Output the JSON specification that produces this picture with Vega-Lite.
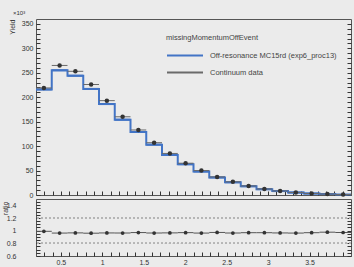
{
  "$schema": "https://vega.github.io/schema/vega-lite/v6.json",
  "background": "#ebebeb",
  "padding": {"left": 0, "top": 9, "right": 2, "bottom": 2},
  "bounds": "flush",
  "spacing": 4,
  "config": {
    "font": "Liberation Sans",
    "view": {"stroke": "#555", "strokeWidth": 1},
    "axis": {"domain": false, "offset": -4, "tickSize": 4, "tickColor": "#333", "tickWidth": 1, "labelColor": "#333", "labelFontSize": 7, "titleFontSize": 7, "titleFontWeight": "normal", "titleColor": "#333", "grid": false, "labelFont": "Liberation Sans", "labelOverlap": false, "labelBound": false, "labelFlush": false}
  },
  "data": {"values": [
    {"x0": 0.2, "x1": 0.39, "xc": 0.295, "mc": 216, "data": 219, "ratio": 0.99},
    {"x0": 0.39, "x1": 0.58, "xc": 0.485, "mc": 255, "data": 265, "ratio": 0.962},
    {"x0": 0.58, "x1": 0.77, "xc": 0.675, "mc": 244, "data": 253, "ratio": 0.965},
    {"x0": 0.77, "x1": 0.96, "xc": 0.865, "mc": 217, "data": 226, "ratio": 0.96},
    {"x0": 0.96, "x1": 1.15, "xc": 1.055, "mc": 186, "data": 193, "ratio": 0.964},
    {"x0": 1.15, "x1": 1.34, "xc": 1.245, "mc": 154, "data": 160, "ratio": 0.963},
    {"x0": 1.34, "x1": 1.53, "xc": 1.435, "mc": 129, "data": 133, "ratio": 0.97},
    {"x0": 1.53, "x1": 1.72, "xc": 1.625, "mc": 103, "data": 107, "ratio": 0.963},
    {"x0": 1.72, "x1": 1.91, "xc": 1.815, "mc": 82, "data": 85, "ratio": 0.965},
    {"x0": 1.91, "x1": 2.1, "xc": 2.005, "mc": 63, "data": 65, "ratio": 0.969},
    {"x0": 2.1, "x1": 2.29, "xc": 2.195, "mc": 48, "data": 50, "ratio": 0.962},
    {"x0": 2.29, "x1": 2.48, "xc": 2.385, "mc": 36, "data": 37, "ratio": 0.972},
    {"x0": 2.48, "x1": 2.67, "xc": 2.575, "mc": 26, "data": 27, "ratio": 0.963},
    {"x0": 2.67, "x1": 2.86, "xc": 2.765, "mc": 18, "data": 18.6, "ratio": 0.968},
    {"x0": 2.86, "x1": 3.05, "xc": 2.955, "mc": 12, "data": 12.4, "ratio": 0.968},
    {"x0": 3.05, "x1": 3.24, "xc": 3.145, "mc": 8, "data": 8.3, "ratio": 0.964},
    {"x0": 3.24, "x1": 3.43, "xc": 3.335, "mc": 5, "data": 5.2, "ratio": 0.962},
    {"x0": 3.43, "x1": 3.62, "xc": 3.525, "mc": 3, "data": 3.1, "ratio": 0.968},
    {"x0": 3.62, "x1": 3.81, "xc": 3.715, "mc": 2, "data": 2.05, "ratio": 0.976},
    {"x0": 3.81, "x1": 4.0, "xc": 3.905, "mc": 1, "data": 1.03, "ratio": 0.971}
  ]},
  "vconcat": [
    {
      "width": 315,
      "height": 176,
      "title": {"text": "×10³", "anchor": "start", "fontSize": 6, "fontWeight": "normal", "color": "#333", "offset": 3, "dx": 5, "font": "Liberation Sans"},
      "resolve": {"scale": {"y": "independent"}, "axis": {"y": "independent"}},
      "encoding": {
        "x": {"field": "x0", "type": "quantitative", "scale": {"domain": [0.2, 4.0], "nice": false, "zero": false},
          "axis": {"title": null, "labels": false, "values": [0.3,0.4,0.5,0.6,0.7,0.8,0.9,1,1.1,1.2,1.3,1.4,1.5,1.6,1.7,1.8,1.9,2,2.1,2.2,2.3,2.4,2.5,2.6,2.7,2.8,2.9,3,3.1,3.2,3.3,3.4,3.5,3.6,3.7,3.8,3.9]}}
      },
      "layer": [
        {
          "encoding": {
            "y": {"field": "mc", "type": "quantitative", "scale": {"domain": [0, 360], "nice": false},
              "axis": {"title": "Yield", "titleAngle": -90, "titleX": -25, "titleY": 0, "titleAlign": "right", "titleBaseline": "bottom",
                "values": [0,10,20,30,40,50,60,70,80,90,100,110,120,130,140,150,160,170,180,190,200,210,220,230,240,250,260,270,280,290,300,310,320,330,340,350],
                "labelExpr": "datum.value % 50 === 0 ? datum.label : ''", "labelPadding": 3}}
          },
          "layer": [
            {
              "mark": {"type": "line", "interpolate": "step-after", "strokeWidth": 2},
              "encoding": {
                "color": {"datum": "Off-resonance MC15rd (exp6_proc13)", "type": "nominal",
                  "scale": {"domain": ["Off-resonance MC15rd (exp6_proc13)", "Continuum data"], "range": ["#4274c6", "#6a6a6a"]},
                  "legend": {"orient": "none", "legendX": 130, "legendY": 15, "title": "missingMomentumOffEvent", "titleFontSize": 7.5, "titleFontWeight": "normal", "titleColor": "#444", "titleFont": "Liberation Sans", "labelFont": "Liberation Sans", "labelFontSize": 7.5, "labelColor": "#444", "symbolType": "M-1,0H3", "symbolSize": 324, "symbolStrokeWidth": 2, "rowPadding": 3, "titlePadding": 4, "labelOffset": 24}}
              }
            },
            {
              "mark": {"type": "rule", "strokeWidth": 2, "color": "#4274c6"},
              "encoding": {"x2": {"field": "x1"}}
            },
            {
              "mark": {"type": "rule", "strokeWidth": 1},
              "encoding": {"x2": {"field": "x1"}, "y": {"field": "data", "type": "quantitative"},
                "color": {"datum": "Continuum data", "type": "nominal"}}
            },
            {
              "mark": {"type": "circle", "size": 20, "color": "#333", "opacity": 1},
              "encoding": {"x": {"field": "xc", "type": "quantitative"}, "y": {"field": "data", "type": "quantitative"}}
            }
          ]
        },
        {
          "mark": {"type": "point", "opacity": 0},
          "encoding": {
            "y": {"field": "mc", "type": "quantitative", "scale": {"domain": [0, 360], "nice": false},
              "axis": {"orient": "right", "title": null, "labels": false,
                "values": [0,10,20,30,40,50,60,70,80,90,100,110,120,130,140,150,160,170,180,190,200,210,220,230,240,250,260,270,280,290,300,310,320,330,340,350]}}
          }
        }
      ]
    },
    {
      "width": 315,
      "height": 57,
      "resolve": {"scale": {"y": "independent"}, "axis": {"y": "independent"}},
      "encoding": {
        "x": {"field": "x0", "type": "quantitative", "scale": {"domain": [0.2, 4.0], "nice": false, "zero": false},
          "axis": {"title": null, "format": "~g", "labelPadding": 2, "values": [0.3,0.4,0.5,0.6,0.7,0.8,0.9,1,1.1,1.2,1.3,1.4,1.5,1.6,1.7,1.8,1.9,2,2.1,2.2,2.3,2.4,2.5,2.6,2.7,2.8,2.9,3,3.1,3.2,3.3,3.4,3.5,3.6,3.7,3.8,3.9],
            "labelExpr": "abs(datum.value*2 - round(datum.value*2)) < 0.01 ? datum.label : ''"}}
      },
      "layer": [
        {
          "encoding": {
            "y": {"field": "ratio", "type": "quantitative", "scale": {"domain": [0.6, 1.5], "nice": false, "zero": false},
              "axis": {"title": "ratio", "titleAngle": -90, "titleX": -32, "titleY": 2, "titleAlign": "right", "titleBaseline": "bottom", "format": "~g",
                "values": [0.6,0.65,0.7,0.75,0.8,0.85,0.9,0.95,1,1.05,1.1,1.15,1.2,1.25,1.3,1.35,1.4,1.45],
                "labelExpr": "abs(datum.value*5 - round(datum.value*5)) < 0.01 ? datum.label : ''", "labelPadding": 20}}
          },
          "layer": [
            {
              "mark": {"type": "rule", "color": "#b5b5b5", "strokeDash": [2, 2]},
              "encoding": {"x": null, "y": {"datum": 1.2, "type": "quantitative"}}
            },
            {
              "mark": {"type": "rule", "color": "#b5b5b5", "strokeDash": [2, 2]},
              "encoding": {"x": null, "y": {"datum": 0.8, "type": "quantitative"}}
            },
            {
              "mark": {"type": "rule", "color": "#555", "strokeWidth": 1},
              "encoding": {"x2": {"field": "x1"}}
            },
            {
              "mark": {"type": "circle", "size": 14, "color": "#333", "opacity": 1},
              "encoding": {"x": {"field": "xc", "type": "quantitative"}}
            }
          ]
        },
        {
          "mark": {"type": "point", "opacity": 0},
          "encoding": {
            "y": {"field": "ratio", "type": "quantitative", "scale": {"domain": [0.6, 1.5], "nice": false, "zero": false},
              "axis": {"orient": "right", "title": null, "labels": false,
                "values": [0.6,0.65,0.7,0.75,0.8,0.85,0.9,0.95,1,1.05,1.1,1.15,1.2,1.25,1.3,1.35,1.4,1.45]}}
          }
        }
      ]
    }
  ]
}
